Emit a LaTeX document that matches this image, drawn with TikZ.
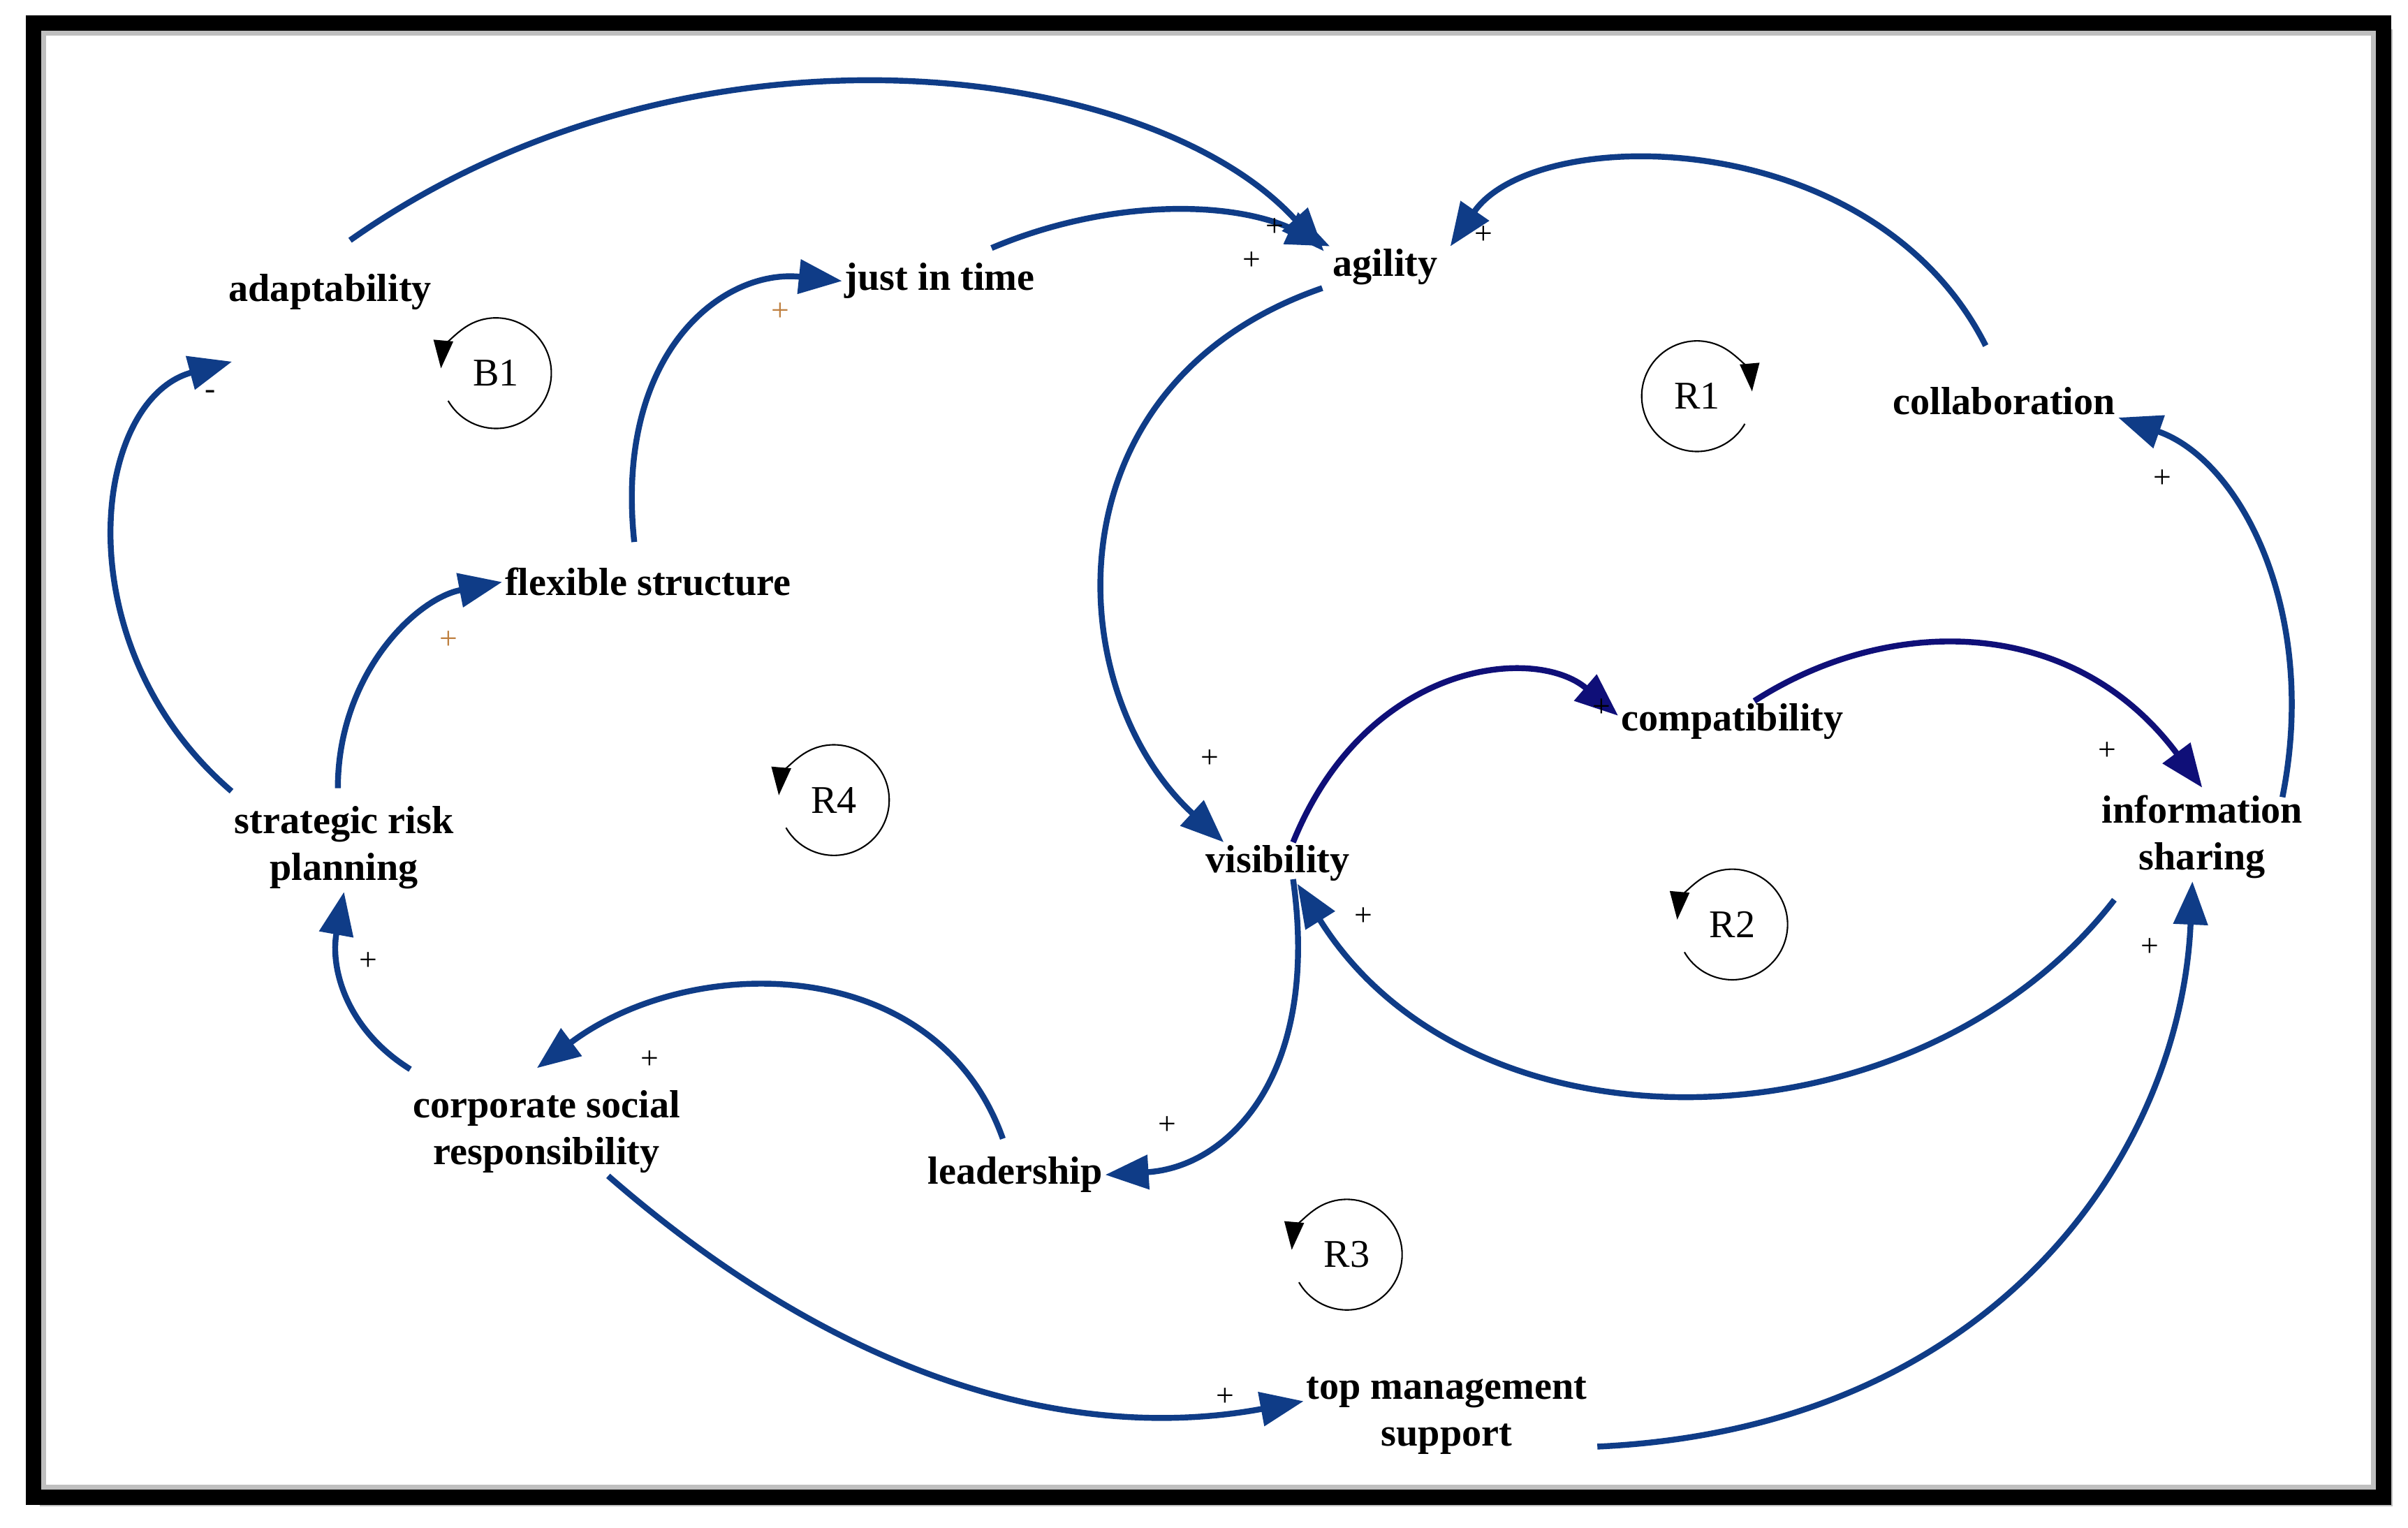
\documentclass[tikz,border=0pt]{standalone}
\usepackage{fontspec}
\setmainfont{Liberation Serif}
\usetikzlibrary{arrows.meta}
\definecolor{arr}{RGB}{15,60,135}
\definecolor{navy}{RGB}{15,15,120}
\begin{document}
\begin{tikzpicture}[x=0.022cm,y=-0.022cm,
  var/.style={font=\fontsize{16}{19}\selectfont\bfseries,align=center,inner sep=1pt},
  link/.style={arr,line width=2.4pt,-{Triangle[length=0.62cm,width=0.48cm]}},
  pl/.style={font=\fontsize{13}{13}\selectfont,inner sep=0pt},
  lp/.style={font=\fontsize{16}{19}\selectfont,inner sep=0pt},
  loopc/.style={black,line width=0.6pt,-{Triangle[length=0.4cm,width=0.28cm]}}]
\useasboundingbox (0,0) rectangle (1568,995);
\fill[gray!50] (26,19) rectangle (1558,981);
\draw[line width=0.22cm,black] (22,15) rectangle (1552,975);
\fill[white] (30,23) rectangle (1544,967);
% variables
\node[var] (adapt) at (215,190) {adaptability};
\node[var] (jit) at (612,183) {just in time};
\node[var] (agil) at (902,174) {agility};
\node[var] (collab) at (1305,261) {collaboration};
\node[var] (flex) at (422,379) {flexible structure};
\node[var] (compat) at (1128,470) {compatibility};
\node[var] (info) at (1434,545) {information\\sharing};
\node[var] (srp) at (224,552) {strategic risk\\planning};
\node[var] (vis) at (832,562) {visibility};
\node[var] (csr) at (356,737) {corporate social\\responsibility};
\node[var] (lead) at (661,765) {leadership};
\node[var] (tms) at (942,922) {top management\\support};
% links
\draw[link] (adapt.north east) ++(-55,-20) .. controls (450,0) and (750,40) .. ([xshift=-25pt,yshift=-2pt]agil.north);
\draw[link] (jit.north east) ++(-30,-8) .. controls (720,130) and (800,130) .. (agil.north west);
\draw[link] (collab.north) ++(-12,-25) .. controls (1220,80) and (1000,80) .. ([xshift=4pt]agil.north east);
\draw[link] (agil.south west) ++(-5,0) .. controls (680,250) and (690,450) .. ([xshift=-22pt]vis.north);
\draw[link] (flex.north) ++(-9,-15) .. controls (400,230) and (470,175) .. (jit.west);
\draw[link] (srp.north west) ++(0,-8) .. controls (40,420) and (60,260) .. ([xshift=-40pt,yshift=-20pt]adapt.south);
\draw[link] (srp.north) ++(-4,-10) .. controls (220,440) and (270,390) .. (flex.west);
\draw[link] (csr.north west) ++(0,-12) .. controls (225,670) and (215,630) .. (srp.south);
\draw[link] (lead.north) ++(-8,-10) .. controls (610,620) and (450,620) .. ([xshift=-4pt,yshift=8pt]csr.north);
\draw[link] (vis.south) ++(10,-3) .. controls (860,700) and (800,760) .. (lead.east);
\draw[link,navy] (vis.north) ++(10,0) .. controls (890,430) and (1000,420) .. ([yshift=-6pt]compat.north west);
\draw[link,navy] (compat.north east) ++(-60,0) .. controls (1230,400) and (1350,400) .. ([yshift=2pt]info.north);
\draw[link] (info.north east) ++(-15,3) .. controls (1510,400) and (1460,300) .. (collab.south east);
\draw[link] (info.south west) ++(10,12) .. controls (1250,750) and (960,760) .. ([xshift=8pt]vis.south);
\draw[link] (csr.south) ++(40,0) .. controls (550,900) and (700,940) .. ([yshift=6pt]tms.west);
\draw[link] (tms.east) ++(5,20) .. controls (1300,930) and (1420,750) .. ([xshift=-4pt]info.south);
% polarities
\node[pl] at (830,148) {+}; \node[pl] at (815,170) {+}; \node[pl] at (966,153) {+};
\node[pl] at (788,494) {+}; \node[pl,brown] at (508,203) {+}; \node[pl] at (137,257) {-};
\node[pl,brown] at (292,417) {+}; \node[pl] at (240,626) {+}; \node[pl] at (423,690) {+};
\node[pl] at (760,733) {+}; \node[pl] at (1043,461) {+}; \node[pl] at (1372,489) {+};
\node[pl] at (1408,312) {+}; \node[pl] at (888,597) {+}; \node[pl] at (798,910) {+};
\node[pl] at (1400,617) {+};
% loops
\node[lp] (b1) at (323,243) {B1};
\draw[loopc] (b1) ++(150:36) arc (150:-175:36);
\node[lp] (r1) at (1105,258) {R1};
\draw[loopc] (r1) ++(30:36) arc (30:355:36);
\node[lp] (r4) at (543,521) {R4};
\draw[loopc] (r4) ++(150:36) arc (150:-175:36);
\node[lp] (r2) at (1128,602) {R2};
\draw[loopc] (r2) ++(150:36) arc (150:-175:36);
\node[lp] (r3) at (877,817) {R3};
\draw[loopc] (r3) ++(150:36) arc (150:-175:36);
\end{tikzpicture}
\end{document}
